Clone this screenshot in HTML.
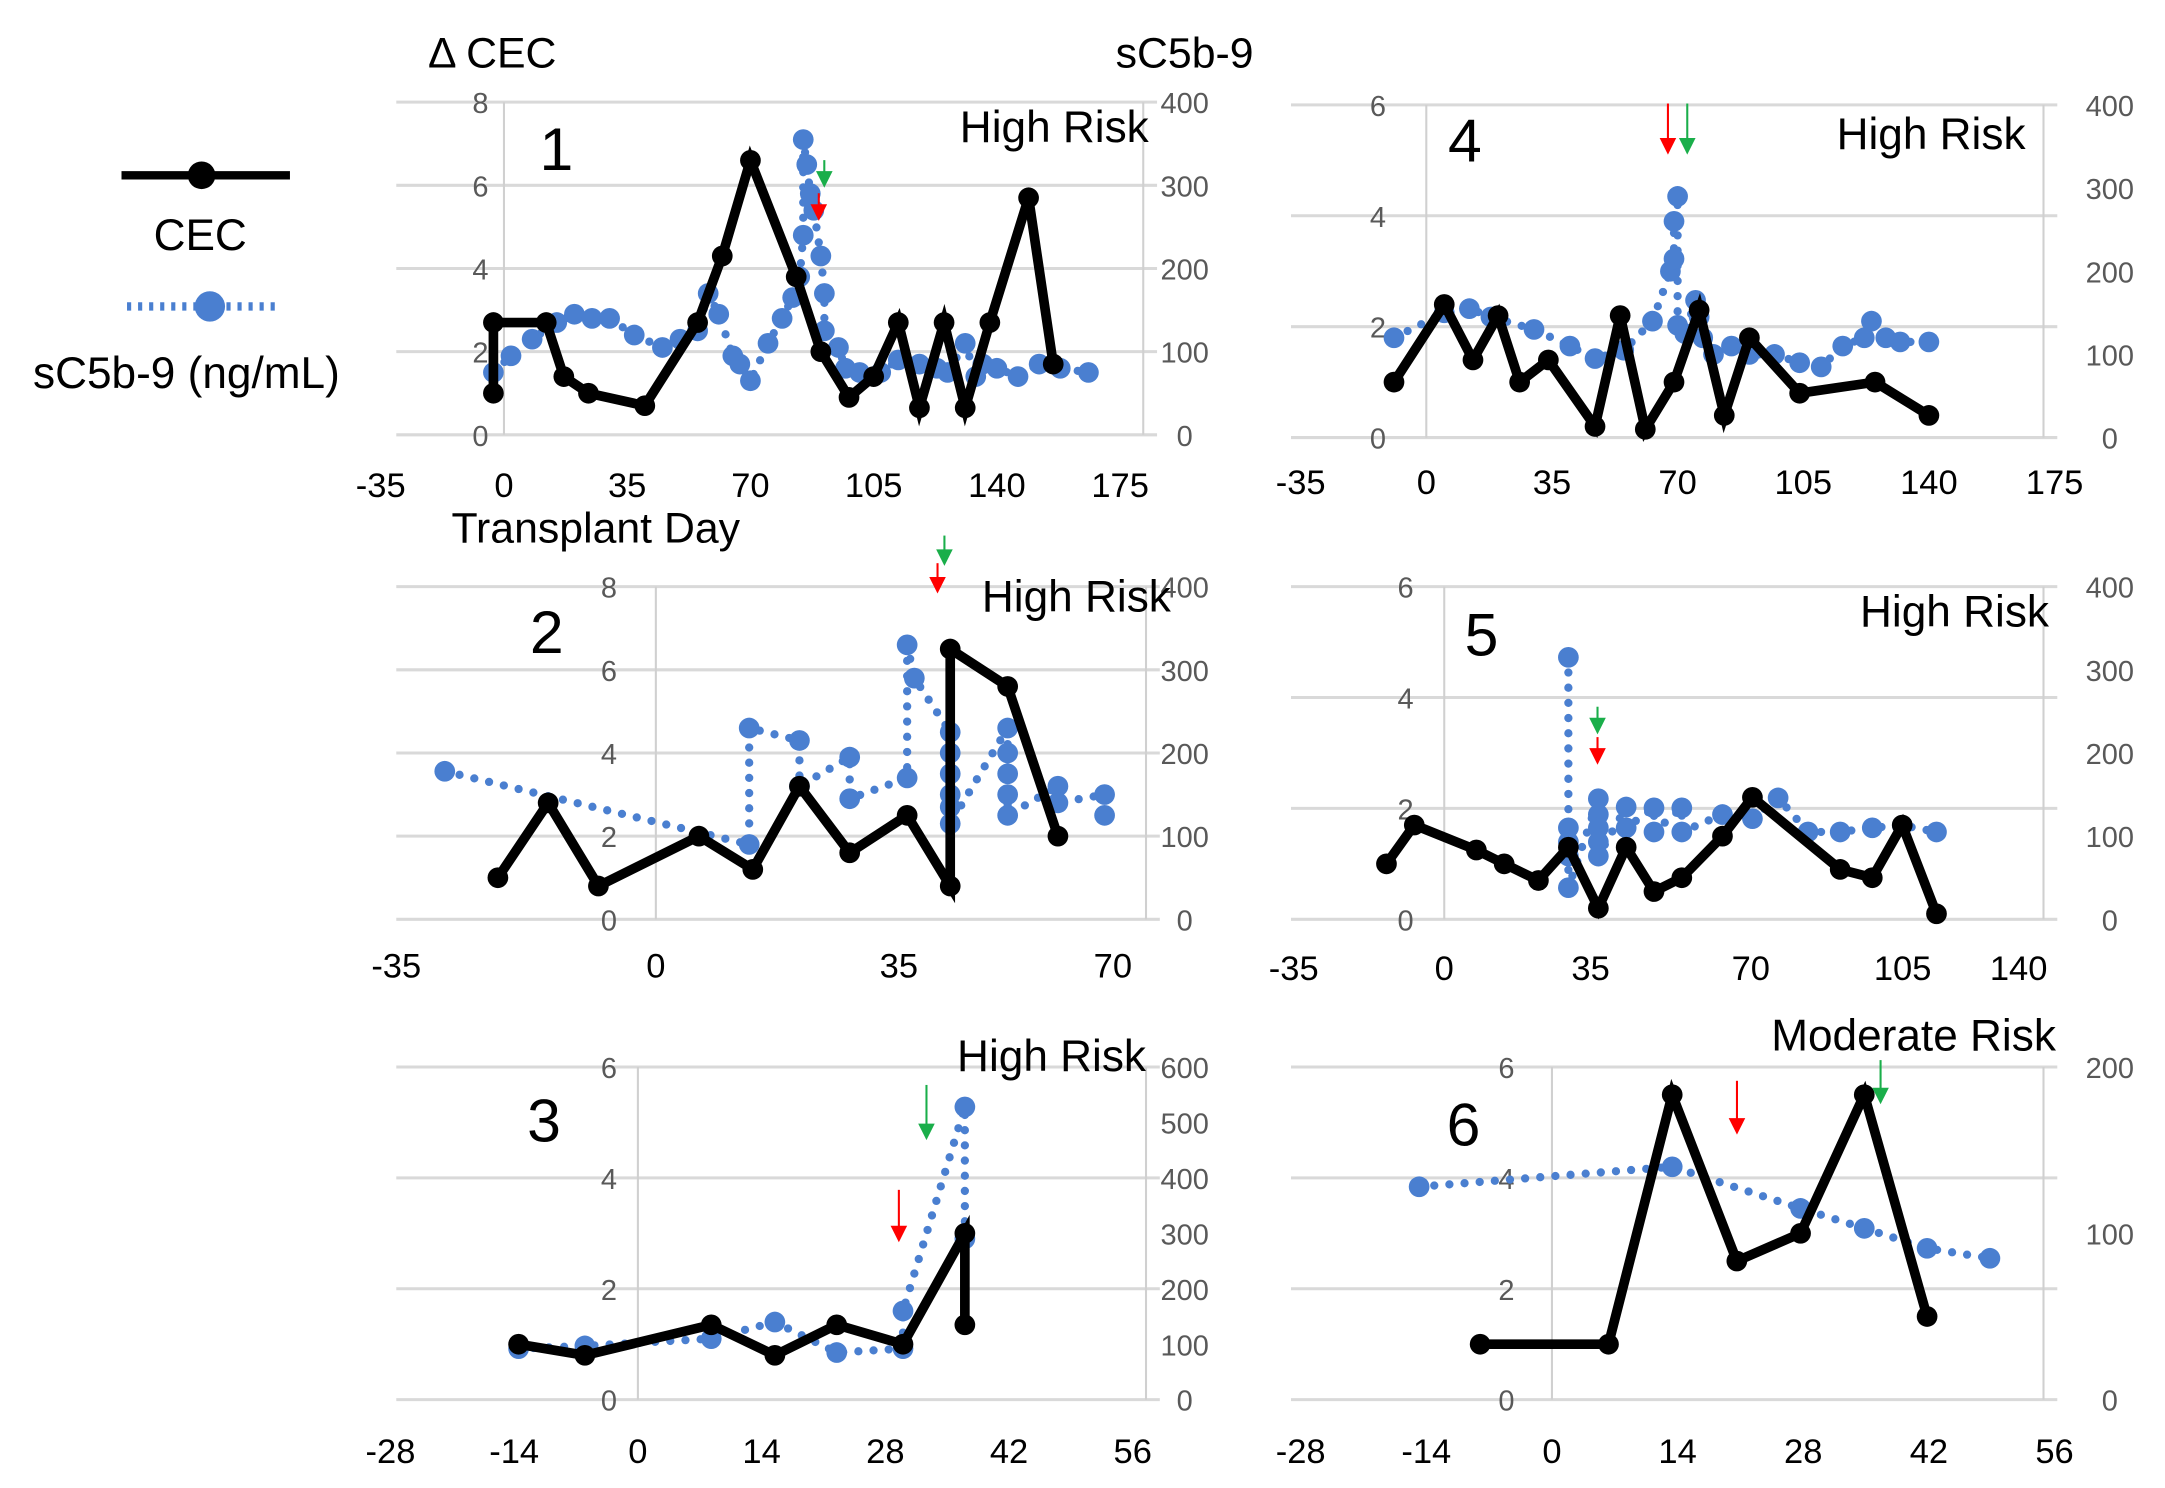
<!DOCTYPE html>
<html><head><meta charset="utf-8"><style>
html,body{margin:0;padding:0;background:#fff}
svg{display:block}
text{font-family:"Liberation Sans",sans-serif}
</style></head><body>
<svg id="fig" width="2165" height="1488" viewBox="0 0 1568 1078" preserveAspectRatio="none" xmlns="http://www.w3.org/2000/svg">
<g>
<line x1="88" y1="127" x2="210" y2="127" stroke="#000" stroke-width="6"/>
<circle cx="146" cy="127" r="10" fill="#000"/>
<text x="145" y="181" font-size="32" text-anchor="middle">CEC</text>
<line x1="92" y1="222" x2="203" y2="222" stroke="#4a7fd0" stroke-width="6" stroke-dasharray="3 5"/>
<circle cx="152" cy="222" r="11" fill="#4a7fd0"/>
<text x="135" y="281" font-size="32" text-anchor="middle">sC5b-9 (ng/mL)</text>
</g>
<text x="310" y="49" font-size="31">Δ CEC</text>
<text x="808" y="49" font-size="31">sC5b-9</text>
<text x="327" y="393" font-size="31">Transplant Day</text>
</svg>
<script>
// Panel 1
const p1CecDays=[-3,-3,12,17,24,40,55,62,70,83,90,98,105,112,118,125,131,138,149,156];
const p1CecVals=[1.0,2.7,2.7,1.4,1.0,0.7,2.7,4.3,6.6,3.8,2.0,0.9,1.4,2.7,0.65,2.7,0.65,2.7,5.7,1.7];
const p1SDays=[-3,2,8,15,20,25,30,37,45,50,55,58,61,65,67,70,75,79,82,84,85,85,86,87,88,90,91,91,95,97,101,107,112,118,123,126,131,134,136,140,146,152,158,166];
const p1SVals=[75,95,115,135,145,140,140,120,105,115,125,170,145,95,85,65,110,140,165,190,240,355,325,290,270,215,170,125,105,80,75,75,90,85,80,75,110,70,85,80,70,85,80,75];
// Panel 4
const p4CecDays=[-9,5,13,20,26,34,47,54,61,69,76,83,90,104,125,140];
const p4CecVals=[1.0,2.4,1.4,2.2,1.0,1.4,0.2,2.2,0.15,1.0,2.3,0.4,1.8,0.8,1.0,0.4];
const p4SDays=[-9,5,12,18,30,40,47,55,63,68,69,69,70,70,72,75,76,77,80,85,90,97,104,110,116,122,124,128,132,140];
const p4SVals=[120,150,155,145,130,110,95,105,140,200,215,260,290,135,125,165,145,120,100,110,100,100,90,85,110,120,140,120,115,115];
// Panel 2
const p2CecDays=[-22,-15,-8,6,13.5,20,27,35,41,41,49,56];
const p2CecVals=[1.0,2.8,0.8,2.0,1.2,3.2,1.6,2.5,0.8,6.5,5.6,2.0];
const p2SDays=[-29.4,13,13,20,20,27,27,35,35,36,41,41,41,41,41,41,49,49,49,49,49,56,56,62.5,62.5];
const p2SVals=[178,90,230,215,160,195,145,170,330,290,225,200,175,150,135,115,230,200,175,150,125,160,140,150,125];
// Panel 5
const p5CecDays=[-13.5,-7,7.5,14,22,29,36,42.5,49,55.5,65,72,92.5,100,107,115];
const p5CecVals=[1.0,1.7,1.25,1.0,0.7,1.3,0.2,1.3,0.5,0.75,1.5,2.2,0.9,0.75,1.7,0.1];
const p5SDays=[29,29,29,29,29,36,36,36,36,36,42.5,42.5,49,49,55.5,55.5,65,72,78,85,92.5,100,107,115];
const p5SVals=[315,110,93,76,38,145,126,110,93,76,135,110,134,105,134,105,126,121,146,105,105,110,113,105];
// Panel 3
const p3CecDays=[-13.5,-6,8.3,15.5,22.5,30,37,37];
const p3CecVals=[1.0,0.8,1.35,0.8,1.35,1.0,3.0,1.35];
const p3SDays=[-13.5,-6,8.3,15.5,22.5,30,30,37,37];
const p3SVals=[92,97,110,140,85,92,160,528,290];
// Panel 6
const p6CecDays=[-8,6.3,13.4,20.6,27.7,34.8,41.8];
const p6CecVals=[1.0,1.0,5.5,2.5,3.0,5.5,1.5];
const p6SDays=[-14.8,13.4,27.7,34.8,41.8,48.8];
const p6SVals=[128,140,115,103,91,85];
// Tick labels
const ticks175=["-35","0","35","70","105","140","175"];
const ticks70=["-35","0","35","70"];
const ticks140=["-35","0","35","70","105","140"];
const ticks56=["-28","-14","0","14","28","42","56"];

const NS="http://www.w3.org/2000/svg";
const svg=document.getElementById('fig');
function mk(tag,attrs,parent){const e=document.createElementNS(NS,tag);for(const k in attrs)e.setAttribute(k,attrs[k]);(parent||svg).appendChild(e);return e;}

const panels=[
 {id:1,gx0:287,gx1:838,zx:365,ppd:2.55,y0:315,ytop:74,lmax:8,lstep:2,rmax:400,rstep:100,ly:348,ry:858,xt:ticks175,xtv:[-35,0,35,70,105,140,175],xly:360,cd:p1CecDays,cv:p1CecVals,sd:p1SDays,sv:p1SVals,num:[403,123],risk:"High Risk",rk:[832,103],arrows:[[593,140,160,'#f00'],[597,116,136,'#1aae4a']]},
 {id:4,gx0:935,gx1:1490,zx:1033,ppd:2.6,y0:317,ytop:76,lmax:6,lstep:2,rmax:400,rstep:100,ly:998,ry:1528,xt:ticks175,xtv:[-35,0,35,70,105,140,175],xly:358,cd:p4CecDays,cv:p4CecVals,sd:p4SDays,sv:p4SVals,num:[1061,117],risk:"High Risk",rk:[1467,108],arrows:[[1208,75,112,'#f00'],[1222,75,112,'#1aae4a']]},
 {id:2,gx0:287,gx1:840,zx:475,ppd:5.2,y0:666,ytop:425,lmax:8,lstep:2,rmax:400,rstep:100,ly:441,ry:858,xt:ticks70,xtv:[-35,0,35,70],xly:708,xpos:[287,475,651,806],cd:p2CecDays,cv:p2CecVals,sd:p2SDays,sv:p2SVals,num:[396,473],risk:"High Risk",rk:[848,443],arrows:[[684,388,410,'#1aae4a'],[679,408,430,'#f00']]},
 {id:5,gx0:935,gx1:1490,zx:1046,ppd:3.1,y0:666,ytop:425,lmax:6,lstep:2,rmax:400,rstep:100,ly:1018,ry:1528,xt:ticks140,xtv:[-35,0,35,70,105,140],xly:710,xpos:[937,1046,1152,1268,1378,1462],cd:p5CecDays,cv:p5CecVals,sd:p5SDays,sv:p5SVals,num:[1073,475],risk:"High Risk",rk:[1484,454],arrows:[[1157,512,532,'#1aae4a'],[1157,534,554,'#f00']]},
 {id:3,gx0:287,gx1:840,zx:462,ppd:6.4,y0:1014,ytop:773,lmax:6,lstep:2,rmax:600,rstep:100,ly:441,ry:858,xt:ticks56,xtv:[-28,-14,0,14,28,42,56],xly:1060,cd:p3CecDays,cv:p3CecVals,sd:p3SDays,sv:p3SVals,num:[394,827],risk:"High Risk",rk:[830,776],arrows:[[651,862,900,'#f00'],[671,786,826,'#1aae4a']]},
 {id:6,gx0:935,gx1:1490,zx:1124,ppd:6.5,y0:1014,ytop:773,lmax:6,lstep:2,rmax:200,rstep:100,ly:1091,ry:1528,xt:ticks56,xtv:[-28,-14,0,14,28,42,56],xly:1060,cd:p6CecDays,cv:p6CecVals,sd:p6SDays,sv:p6SVals,num:[1060,830],risk:"Moderate Risk",rk:[1489,761],arrows:[[1258,783,822,'#f00'],[1362,768,800,'#1aae4a']]}
];

panels.forEach(p=>{
  const g=mk('g',{});
  
  
  const X=d=>p.zx+d*p.ppd;
  const YL=v=>p.y0-(p.y0-p.ytop)*v/p.lmax;
  const YR=v=>p.y0-(p.y0-p.ytop)*v/p.rmax;
  for(let v=0;v<=p.lmax;v+=p.lstep){
    const y=YL(v);
    const l=mk('line',{x1:p.gx0,x2:p.gx1,y1:y,y2:y,stroke:'#d9d9d9','stroke-width':2.2},g);
    
    
    const t=mk('text',{x:p.ly,y:y+8,'font-size':21,fill:'#595959','text-anchor':'middle'},g);
    t.textContent=v;
    
    
  }
  for(let v=0;v<=p.rmax;v+=p.rstep){
    const t=mk('text',{x:p.ry,y:YR(v)+8,'font-size':21,fill:'#595959','text-anchor':'middle'},g);
    t.textContent=v;
    
    
  }
  const za=mk('line',{x1:p.zx,x2:p.zx,y1:p.ytop,y2:p.y0,stroke:'#d0d0d0','stroke-width':1.5},g);
  
  
  const ra=mk('line',{x1:p.gx1-10,x2:p.gx1-10,y1:p.ytop,y2:p.y0,stroke:'#d0d0d0','stroke-width':1.5},g);
  
  
  p.xt.forEach((s,i)=>{
    const x=p.xpos?p.xpos[i]:X(p.xtv[i]);
    const t=mk('text',{x:x,y:p.xly,'font-size':25,fill:'#000','text-anchor':'middle'},g);
    t.textContent=s;
    
    
  });
  const sp=p.sd.map((d,i)=>X(d)+','+YR(p.sv[i])).join(' ');
  const sl=mk('polyline',{points:sp,fill:'none',stroke:'#4a7fd0','stroke-width':6,'stroke-linecap':'round','stroke-dasharray':'0 11'},g);
  
  
  p.sd.forEach((d,i)=>{
    const c=mk('circle',{cx:X(d),cy:YR(p.sv[i]),r:7.5,fill:'#4a7fd0'},g);
    
    
  });
  const cp=p.cd.map((d,i)=>X(d)+','+YL(p.cv[i])).join(' ');
  const cl=mk('polyline',{points:cp,fill:'none',stroke:'#000','stroke-width':7,'stroke-linejoin':'miter'},g);
  
  
  p.cd.forEach((d,i)=>{
    const c=mk('circle',{cx:X(d),cy:YL(p.cv[i]),r:7.5,fill:'#000'},g);
    
    
  });
  const n=mk('text',{x:p.num[0],y:p.num[1],'font-size':44,'text-anchor':'middle'},g);
  n.textContent=p.id;
  
  
  const r=mk('text',{x:p.rk[0],y:p.rk[1],'font-size':32,'text-anchor':'end'},g);
  r.textContent=p.risk;
  
  
  p.arrows.forEach(a=>{
    const [x,y1,y2,col]=a;
    const ag=mk('g',{},g);
    
    
    mk('line',{x1:x,x2:x,y1:y1,y2:y2-8,stroke:col,'stroke-width':1.5},ag);
    mk('polygon',{points:(x-6)+','+(y2-12)+' '+(x+6)+','+(y2-12)+' '+x+','+y2,fill:col},ag);
  });
});
</script>
</body></html>
